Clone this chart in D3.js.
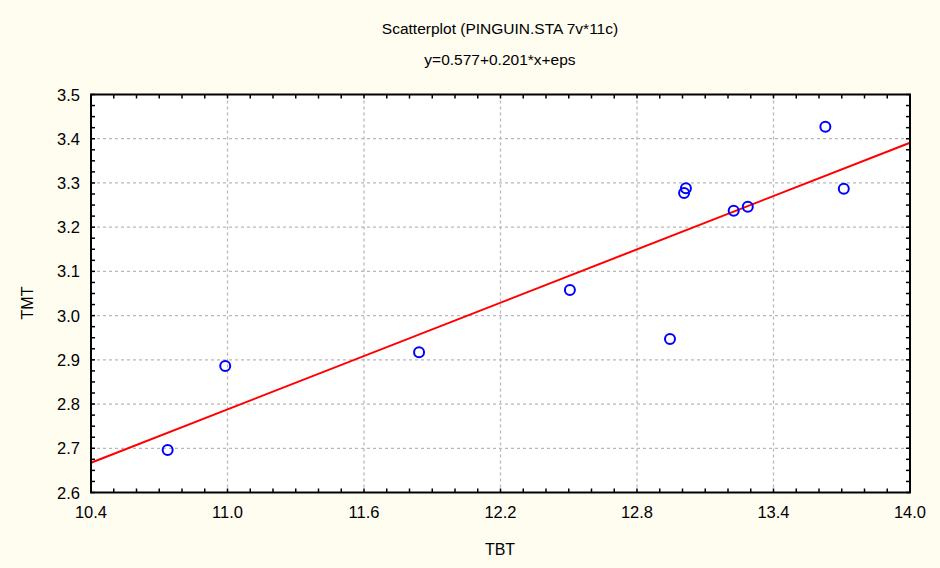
<!DOCTYPE html>
<html>
<head>
<meta charset="utf-8">
<script src="https://cdn.jsdelivr.net/npm/d3@7"></script>
<style>
  body { margin: 0; background: #fffcf0; }
  svg { display: block; font-family: "Liberation Sans", Arial, sans-serif; }
</style>
</head>
<body>
<svg id="chart" width="940" height="568"></svg>
<script>
// data
const tbt = [10.737, 10.99, 11.842, 12.505, 12.945, 13.007, 13.015, 13.225, 13.287, 13.628, 13.709];
const tmt = [2.696, 2.886, 2.917, 3.058, 2.947, 3.277, 3.288, 3.237, 3.246, 3.427, 3.287];
const xTicks = [10.4, 11.0, 11.6, 12.2, 12.8, 13.4, 14.0];
const yTicks = [2.6, 2.7, 2.8, 2.9, 3.0, 3.1, 3.2, 3.3, 3.4, 3.5];
const intercept = 0.577, slope = 0.201;

const svg = d3.select("#chart");
const margin = {left: 91, right: 30, top: 94.5, bottom: 75.5};
const width = 940, height = 568;

svg.append("rect").attr("width", width).attr("height", height).attr("fill", "#fffcf0");

const x = d3.scaleLinear().domain([10.4, 14.0]).range([margin.left, width - margin.right]);
const y = d3.scaleLinear().domain([2.6, 3.5]).range([height - margin.bottom, margin.top]);

svg.append("rect")
    .attr("x", x(10.4)).attr("y", y(3.5))
    .attr("width", x(14.0) - x(10.4)).attr("height", y(2.6) - y(3.5))
    .attr("fill", "#ffffff");

// grid
const grid = svg.append("g").attr("stroke", "#b8b8b8").attr("stroke-width", 1.3).attr("stroke-dasharray", "3,3");
xTicks.slice(1, -1).forEach(v => {
    grid.append("line").attr("x1", x(v)).attr("x2", x(v)).attr("y1", y(3.5)).attr("y2", y(2.6));
});
yTicks.slice(1, -1).forEach(v => {
    grid.append("line").attr("x1", x(10.4)).attr("x2", x(14.0)).attr("y1", y(v)).attr("y2", y(v));
});

// minor ticks, pointing inward
const ticks = svg.append("g").attr("stroke", "#000").attr("stroke-width", 1.5);
d3.range(0, 37).forEach(i => {
    const v = 10.4 + i * 0.1;
    ticks.append("line").attr("x1", x(v)).attr("x2", x(v)).attr("y1", y(2.6)).attr("y2", y(2.6) - 4);
    ticks.append("line").attr("x1", x(v)).attr("x2", x(v)).attr("y1", y(3.5)).attr("y2", y(3.5) + 4);
});
d3.range(0, 37).forEach(i => {
    const v = 2.6 + i * 0.025;
    ticks.append("line").attr("x1", x(10.4)).attr("x2", x(10.4) + 4).attr("y1", y(v)).attr("y2", y(v));
    ticks.append("line").attr("x1", x(14.0)).attr("x2", x(14.0) - 4).attr("y1", y(v)).attr("y2", y(v));
});

// regression line
svg.append("line")
    .attr("x1", x(10.4)).attr("y1", y(intercept + slope * 10.4))
    .attr("x2", x(14.0)).attr("y2", y(intercept + slope * 14.0))
    .attr("stroke", "#ff0000").attr("stroke-width", 2);

// points
svg.append("g").selectAll("circle")
    .data(tbt.map((d, i) => [d, tmt[i]]))
    .join("circle")
    .attr("cx", d => x(d[0])).attr("cy", d => y(d[1]))
    .attr("r", 5)
    .attr("fill", "none").attr("stroke", "#0000ff").attr("stroke-width", 2);

// frame
svg.append("rect")
    .attr("x", x(10.4)).attr("y", y(3.5))
    .attr("width", x(14.0) - x(10.4)).attr("height", y(2.6) - y(3.5))
    .attr("fill", "none").attr("stroke", "#000").attr("stroke-width", 2);

// tick labels
svg.append("g").selectAll("text")
    .data(xTicks).join("text")
    .attr("x", d => x(d)).attr("y", y(2.6) + 25)
    .attr("text-anchor", "middle").attr("font-size", 16.5).attr("fill", "#000")
    .text(d => d.toFixed(1));

svg.append("g").selectAll("text")
    .data(yTicks).join("text")
    .attr("x", x(10.4) - 11).attr("y", d => y(d) + 6)
    .attr("text-anchor", "end").attr("font-size", 16.5).attr("fill", "#000")
    .text(d => d.toFixed(1));

// titles
svg.append("text").attr("x", 500).attr("y", 34).attr("text-anchor", "middle")
    .attr("font-size", 15.5).text("Scatterplot (PINGUIN.STA 7v*11c)");
svg.append("text").attr("x", 500).attr("y", 65).attr("text-anchor", "middle")
    .attr("font-size", 15.5).text("y=0.577+0.201*x+eps");
svg.append("text").attr("x", 500).attr("y", 555).attr("text-anchor", "middle")
    .attr("font-size", 16).text("TBT");
svg.append("text").attr("transform", "translate(33,303) rotate(-90)").attr("text-anchor", "middle")
    .attr("font-size", 16).text("TMT");
</script>
</body>
</html>
